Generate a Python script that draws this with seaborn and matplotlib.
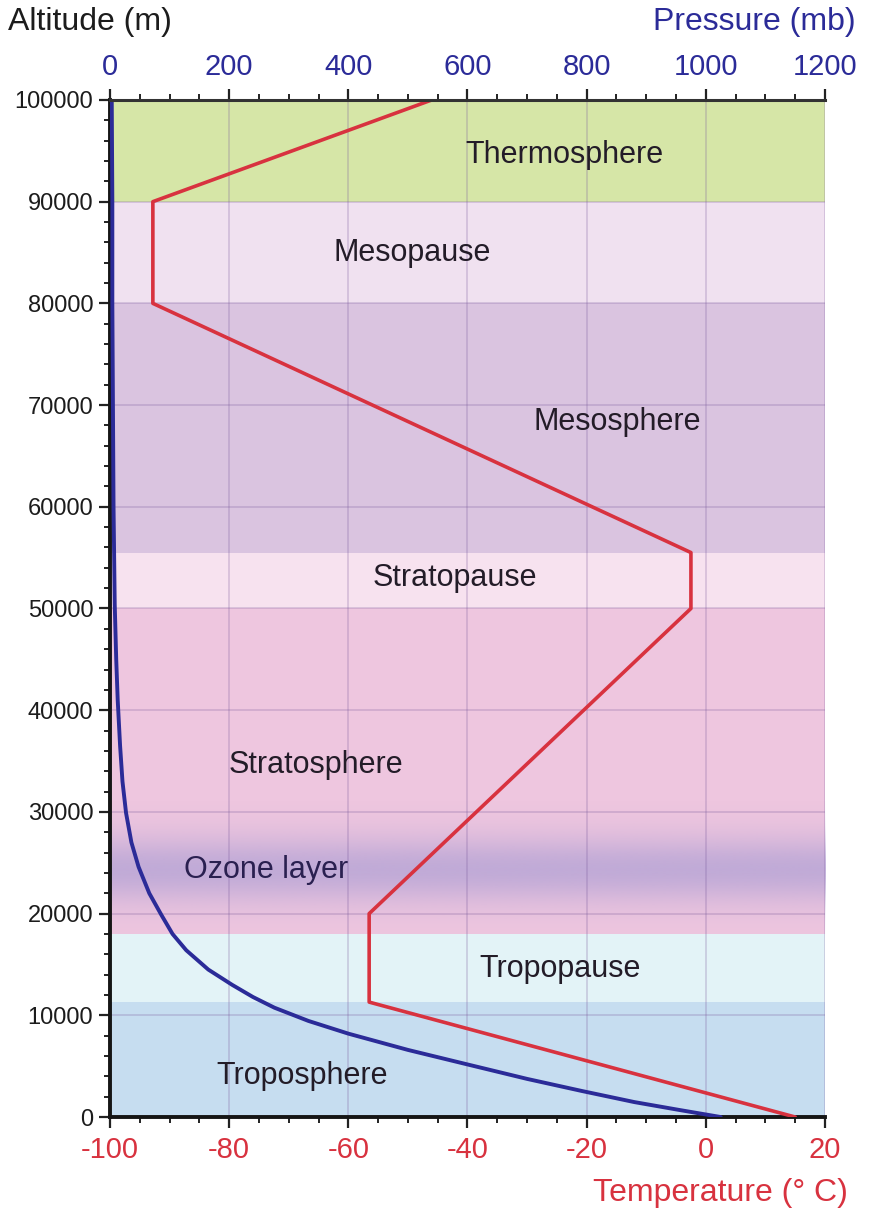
import numpy as np
import matplotlib
matplotlib.use("Agg")
import matplotlib.pyplot as plt
import seaborn as sns
from matplotlib.ticker import MultipleLocator
from matplotlib.colors import to_rgb

# temperature profile (deg C) against altitude (m)
temp_alt = [0, 11300, 20000, 50000, 55500, 80000, 90000, 100000]
temp_c = [15, -56.5, -56.5, -2.5, -2.5, -92.8, -92.8, -46]

# pressure profile (mb) against altitude (m)
pres_alt = [0, 700, 1470, 2560, 3750, 5100, 6600, 8200, 9450, 10750,
            11800, 13000, 14500, 16400, 18000, 19900, 22000, 24600, 27000,
            29900, 33000, 36500, 41000, 45000, 50400, 60000, 70000, 80000,
            90000, 100000]
pres_mb = [1025, 955, 880, 792, 700, 605, 500, 400, 333, 276,
           240, 205, 165, 128, 105, 86, 66, 48, 36,
           27, 21, 17, 13, 10.5, 8, 6, 5, 4,
           4, 3]

# atmosphere layers
layer_names = ["Troposphere", "Tropopause", "Stratosphere", "Stratopause",
               "Mesosphere", "Mesopause", "Thermosphere"]
layer_bottom = [0, 11300, 18000, 50000, 55500, 80000, 90000]
layer_top = [11300, 18000, 50000, 55500, 80000, 90000, 100000]
layer_colors = ["#c6ddf0", "#e3f3f7", "#eec6df", "#f7e2ef",
                "#dac4e0", "#f0e1f0", "#d6e6a7"]
label_temp = [-67.8, -24.5, -65.4, -42.1, -14.8, -49.3, -23.7]
label_alt = [4000, 14600, 34600, 53000, 68300, 85000, 94600]

ozone_center = 24300
ozone_sigma = 2300
ozone_color = "#b9a6d6"

RED = "#d8323f"
BLUE = "#2b2b98"

sns.set_theme(style="ticks")
plt.rcParams['font.family'] = ['Liberation Sans', 'DejaVu Sans']
plt.rcParams['axes.unicode_minus'] = False

fig = plt.figure(figsize=(8.72, 12.22), dpi=100)
ax = fig.add_axes([0.1261, 0.0859, 0.82, 0.8323])

for b, t, c in zip(layer_bottom, layer_top, layer_colors):
    ax.axhspan(b, t, color=c, zorder=0, lw=0)

# soft ozone band
zz = np.linspace(18000, 31000, 200)
alpha = np.exp(-0.5 * ((zz - ozone_center) / ozone_sigma) ** 2) * 0.85
img = np.zeros((len(zz), 1, 4))
img[:, 0, :3] = to_rgb(ozone_color)
img[:, 0, 3] = alpha
ax.imshow(img, extent=[-100, 20, 18000, 31000], origin="lower",
          aspect="auto", zorder=0.2, interpolation="bilinear")

sns.lineplot(x=temp_c, y=temp_alt, sort=False, estimator=None, ax=ax,
             color=RED, lw=2.6, zorder=3)

ax.set_xlim(-100, 20)
ax.set_ylim(0, 100000)
ax.set_axisbelow(True)
ax.grid(True, which="major", color="#7a5a9c", alpha=0.3, lw=1.1)
ax.xaxis.set_major_locator(MultipleLocator(20))
ax.xaxis.set_minor_locator(MultipleLocator(5))
ax.yaxis.set_major_locator(MultipleLocator(10000))
ax.yaxis.set_minor_locator(MultipleLocator(2000))
ax.set_xlabel("")
ax.set_ylabel("")

for name, tx, ty in zip(layer_names, label_temp, label_alt):
    ax.text(tx, ty, name, ha="center", va="center", fontsize=22,
            color="#231c28", zorder=4)
ax.text(-73.8, 24300, "Ozone layer", ha="center", va="center", fontsize=22,
        color="#2a2050", zorder=4)

ax.tick_params(axis="both", which="major", direction="out", length=8,
               width=1.6, color="#222222")
ax.tick_params(axis="both", which="minor", direction="out", length=4,
               width=1.4, color="#222222")
ax.tick_params(axis="y", labelsize=17, labelcolor="#1c1c1c", pad=4)
ax.tick_params(axis="x", labelsize=21, labelcolor=RED, pad=6)

for side in ["top", "right"]:
    ax.spines[side].set_visible(False)
for side in ["left", "bottom"]:
    ax.spines[side].set_color("#151515")
    ax.spines[side].set_linewidth(2.8)

# pressure on top axis
ax2 = ax.twiny()
sns.lineplot(x=pres_mb, y=pres_alt, sort=False, estimator=None, ax=ax2,
             color=BLUE, lw=2.8)
ax2.set_xlim(0, 1200)
ax2.set_ylim(0, 100000)
ax2.set_xlabel("")
ax2.set_ylabel("")
ax2.xaxis.set_major_locator(MultipleLocator(200))
ax2.xaxis.set_minor_locator(MultipleLocator(50))
ax2.tick_params(axis="x", which="major", direction="out", length=8,
                width=1.6, color="#222222", labelsize=21, labelcolor=BLUE,
                pad=6)
ax2.tick_params(axis="x", which="minor", direction="out", length=4,
                width=1.4, color="#222222")
for side in ["left", "right", "bottom"]:
    ax2.spines[side].set_visible(False)
ax2.spines["top"].set_color("#333333")
ax2.spines["top"].set_linewidth(2.2)

fig.text(0.009, 0.982, "Altitude (m)", ha="left", va="center", fontsize=23,
         color="#1c1c1c")
fig.text(0.981, 0.982, "Pressure (mb)", ha="right", va="center", fontsize=23,
         color=BLUE)
fig.text(0.972, 0.024, "Temperature (° C)", ha="right", va="center",
         fontsize=23, color=RED)

fig.savefig("out.png", dpi=100, facecolor="white")
